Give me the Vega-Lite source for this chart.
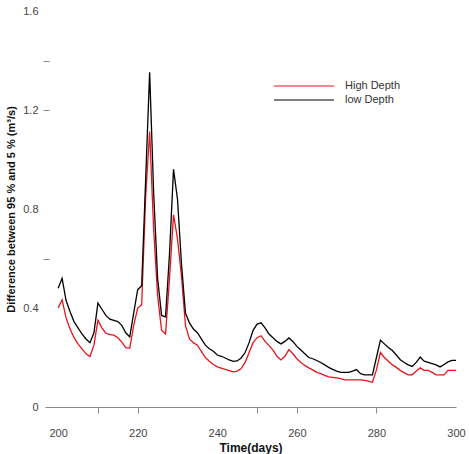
{
  "$schema": "https://vega.github.io/schema/vega-lite/v6.json",
  "width": 411,
  "height": 396,
  "autosize": {"type": "none"},
  "padding": {"left": 45, "top": 11, "right": 13, "bottom": 47},
  "background": "white",
  "config": {
    "font": "Liberation Sans",
    "view": {"stroke": null}
  },
  "data": {
    "values": [
      {"day":200,"High Depth":0.40,"low Depth":0.48},
      {"day":201,"High Depth":0.433,"low Depth":0.52},
      {"day":202,"High Depth":0.36,"low Depth":0.43},
      {"day":203,"High Depth":0.315,"low Depth":0.385},
      {"day":204,"High Depth":0.28,"low Depth":0.345},
      {"day":205,"High Depth":0.255,"low Depth":0.32},
      {"day":206,"High Depth":0.235,"low Depth":0.295},
      {"day":207,"High Depth":0.215,"low Depth":0.275},
      {"day":208,"High Depth":0.204,"low Depth":0.26},
      {"day":209,"High Depth":0.25,"low Depth":0.30},
      {"day":210,"High Depth":0.35,"low Depth":0.42},
      {"day":211,"High Depth":0.32,"low Depth":0.395},
      {"day":212,"High Depth":0.298,"low Depth":0.37},
      {"day":213,"High Depth":0.292,"low Depth":0.355},
      {"day":214,"High Depth":0.29,"low Depth":0.35},
      {"day":215,"High Depth":0.28,"low Depth":0.345},
      {"day":216,"High Depth":0.262,"low Depth":0.33},
      {"day":217,"High Depth":0.24,"low Depth":0.30},
      {"day":218,"High Depth":0.238,"low Depth":0.283},
      {"day":219,"High Depth":0.33,"low Depth":0.38},
      {"day":220,"High Depth":0.40,"low Depth":0.474},
      {"day":221,"High Depth":0.413,"low Depth":0.49},
      {"day":222,"High Depth":0.85,"low Depth":0.92},
      {"day":223,"High Depth":1.113,"low Depth":1.352},
      {"day":224,"High Depth":0.72,"low Depth":0.87},
      {"day":225,"High Depth":0.45,"low Depth":0.52},
      {"day":226,"High Depth":0.31,"low Depth":0.37},
      {"day":227,"High Depth":0.295,"low Depth":0.364},
      {"day":228,"High Depth":0.52,"low Depth":0.62},
      {"day":229,"High Depth":0.777,"low Depth":0.96},
      {"day":230,"High Depth":0.68,"low Depth":0.84},
      {"day":231,"High Depth":0.53,"low Depth":0.58},
      {"day":232,"High Depth":0.33,"low Depth":0.38},
      {"day":233,"High Depth":0.275,"low Depth":0.34},
      {"day":234,"High Depth":0.26,"low Depth":0.315},
      {"day":235,"High Depth":0.25,"low Depth":0.30},
      {"day":236,"High Depth":0.225,"low Depth":0.275},
      {"day":237,"High Depth":0.20,"low Depth":0.25},
      {"day":238,"High Depth":0.185,"low Depth":0.235},
      {"day":239,"High Depth":0.172,"low Depth":0.225},
      {"day":240,"High Depth":0.162,"low Depth":0.21},
      {"day":241,"High Depth":0.157,"low Depth":0.205},
      {"day":242,"High Depth":0.152,"low Depth":0.198},
      {"day":243,"High Depth":0.147,"low Depth":0.19},
      {"day":244,"High Depth":0.142,"low Depth":0.184},
      {"day":245,"High Depth":0.145,"low Depth":0.186},
      {"day":246,"High Depth":0.155,"low Depth":0.198},
      {"day":247,"High Depth":0.18,"low Depth":0.22},
      {"day":248,"High Depth":0.22,"low Depth":0.26},
      {"day":249,"High Depth":0.26,"low Depth":0.31},
      {"day":250,"High Depth":0.28,"low Depth":0.335},
      {"day":251,"High Depth":0.288,"low Depth":0.34},
      {"day":252,"High Depth":0.265,"low Depth":0.32},
      {"day":253,"High Depth":0.248,"low Depth":0.295},
      {"day":254,"High Depth":0.23,"low Depth":0.28},
      {"day":255,"High Depth":0.205,"low Depth":0.265},
      {"day":256,"High Depth":0.19,"low Depth":0.255},
      {"day":257,"High Depth":0.205,"low Depth":0.265},
      {"day":258,"High Depth":0.232,"low Depth":0.279},
      {"day":259,"High Depth":0.215,"low Depth":0.265},
      {"day":260,"High Depth":0.195,"low Depth":0.245},
      {"day":261,"High Depth":0.18,"low Depth":0.23},
      {"day":262,"High Depth":0.168,"low Depth":0.215},
      {"day":263,"High Depth":0.158,"low Depth":0.2},
      {"day":264,"High Depth":0.15,"low Depth":0.195},
      {"day":265,"High Depth":0.14,"low Depth":0.188},
      {"day":266,"High Depth":0.135,"low Depth":0.18},
      {"day":267,"High Depth":0.128,"low Depth":0.17},
      {"day":268,"High Depth":0.122,"low Depth":0.16},
      {"day":269,"High Depth":0.12,"low Depth":0.152},
      {"day":270,"High Depth":0.118,"low Depth":0.145},
      {"day":271,"High Depth":0.115,"low Depth":0.14},
      {"day":272,"High Depth":0.11,"low Depth":0.14},
      {"day":273,"High Depth":0.11,"low Depth":0.14},
      {"day":274,"High Depth":0.11,"low Depth":0.145},
      {"day":275,"High Depth":0.11,"low Depth":0.151},
      {"day":276,"High Depth":0.11,"low Depth":0.135},
      {"day":277,"High Depth":0.108,"low Depth":0.13},
      {"day":278,"High Depth":0.105,"low Depth":0.13},
      {"day":279,"High Depth":0.10,"low Depth":0.13},
      {"day":280,"High Depth":0.15,"low Depth":0.2},
      {"day":281,"High Depth":0.22,"low Depth":0.27},
      {"day":282,"High Depth":0.2,"low Depth":0.255},
      {"day":283,"High Depth":0.185,"low Depth":0.24},
      {"day":284,"High Depth":0.17,"low Depth":0.228},
      {"day":285,"High Depth":0.16,"low Depth":0.21},
      {"day":286,"High Depth":0.148,"low Depth":0.191},
      {"day":287,"High Depth":0.138,"low Depth":0.18},
      {"day":288,"High Depth":0.13,"low Depth":0.17},
      {"day":289,"High Depth":0.13,"low Depth":0.164},
      {"day":290,"High Depth":0.145,"low Depth":0.18},
      {"day":291,"High Depth":0.158,"low Depth":0.202},
      {"day":292,"High Depth":0.148,"low Depth":0.185},
      {"day":293,"High Depth":0.148,"low Depth":0.18},
      {"day":294,"High Depth":0.14,"low Depth":0.175},
      {"day":295,"High Depth":0.13,"low Depth":0.17},
      {"day":296,"High Depth":0.13,"low Depth":0.162},
      {"day":297,"High Depth":0.13,"low Depth":0.172},
      {"day":298,"High Depth":0.148,"low Depth":0.182},
      {"day":299,"High Depth":0.148,"low Depth":0.188},
      {"day":300,"High Depth":0.148,"low Depth":0.188}
    ]
  },
  "transform": [
    {"fold": ["High Depth", "low Depth"], "as": ["series", "value"]}
  ],
  "mark": {"type": "line", "strokeWidth": 1.3, "clip": false},
  "encoding": {
    "x": {
      "field": "day",
      "type": "quantitative",
      "scale": {"domain": [196.7, 300], "nice": false, "zero": false},
      "axis": {
        "title": "Time(days)",
        "titleFontSize": 12,
        "titleFontWeight": "bold",
        "titleColor": "#111",
        "titlePadding": 4,
        "values": [200, 210, 220, 240, 250, 260, 280, 300],
        "labelExpr": "datum.value == 210 || datum.value == 250 ? '' : datum.label",
        "labelFontSize": 11,
        "labelColor": "#444",
        "labelPadding": 14,
        "labelFlush": false,
        "labelOverlap": false,
        "grid": false,
        "domainColor": "#8a8a8a",
        "tickColor": "#8a8a8a",
        "tickSize": 6,
        "tickOpacity": {"condition": {"test": "datum.value == 200 || datum.value == 240 || datum.value == 300", "value": 0}, "value": 1}
      }
    },
    "y": {
      "field": "value",
      "type": "quantitative",
      "scale": {"domain": [0, 1.6], "nice": false},
      "axis": {
        "title": "Difference between 95 % and 5 % (m³/s)",
        "titleFontSize": 11,
        "titleFontWeight": "bold",
        "titleColor": "#111",
        "titlePadding": 6,
        "values": [0, 0.4, 0.6, 0.8, 1.2, 1.4, 1.6],
        "format": "~g",
        "labelExpr": "datum.value == 0.6 || datum.value == 1.4 ? '' : datum.label",
        "labelFontSize": 11,
        "labelColor": "#444",
        "labelPadding": 5,
        "labelOverlap": false,
        "offset": -4,
        "domain": false,
        "grid": false,
        "tickColor": "#8a8a8a",
        "tickSize": 6,
        "tickOpacity": {"condition": {"test": "datum.value == 0.6 || datum.value == 1.2 || datum.value == 1.4", "value": 1}, "value": 0}
      }
    },
    "color": {
      "field": "series",
      "type": "nominal",
      "scale": {"domain": ["High Depth", "low Depth"], "range": ["#e8141c", "#000000"]},
      "legend": {
        "title": null,
        "orient": "none",
        "legendX": 250,
        "legendY": 66,
        "symbolType": "M-3.75,0H3.75",
        "symbolSize": 256,
        "symbolStrokeWidth": 1.2,
        "labelFontSize": 11,
        "labelColor": "#333",
        "labelOffset": 32,
        "rowPadding": 0
      }
    },
    "order": {"field": "series"}
  }
}
